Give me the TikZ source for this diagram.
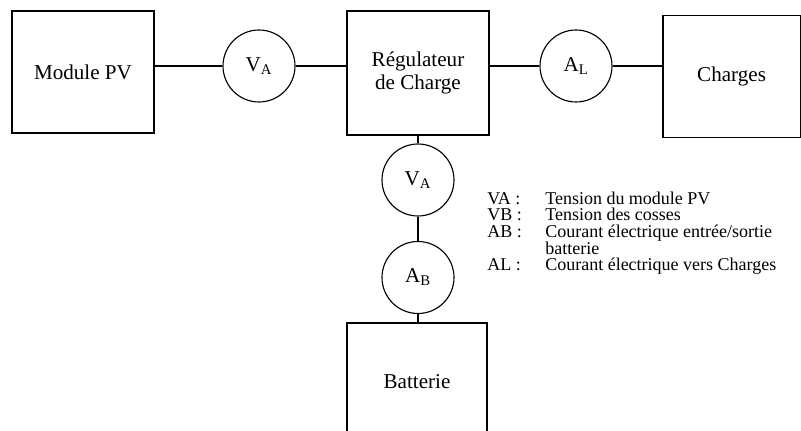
\documentclass[tikz,border=0pt]{standalone}
\usepackage{fontspec}
\setmainfont{Liberation Serif}
\usetikzlibrary{positioning}
\tikzset{
    bloc/.style={
        draw, line width=0.8pt, minimum width=3.55cm, minimum height=3.05cm,
        align=center, font=\fontsize{15}{16.5}\selectfont
    },
    meter/.style={
        circle, draw, line width=0.8pt, minimum size=1.8cm, inner sep=0pt,
        font=\fontsize{15}{16.5}\selectfont
    },
    wire/.style={
        line width=0.8pt
    },
    legende/.style={
        anchor=base west, inner sep=0pt, font=\fontsize{12.8}{12}\selectfont
    }
}

\begin{document}
\begin{tikzpicture}
    \useasboundingbox (0,0) rectangle (20.025,10.775);

    % --- BLOCS ---
    \node[bloc] (pv) at (2.075,8.975) {Module PV};
    \node[bloc, minimum height=3.1cm] (reg) at (10.45,8.95) {Régulateur\\de Charge};
    \node[bloc, minimum width=3.43cm, minimum height=3.03cm] (charges) at (18.29,8.8625) {Charges};
    \node[bloc, minimum width=3.5cm, minimum height=2.925cm] (batt) at (10.425,1.2375) {Batterie};

    % --- APPAREILS DE MESURE ---
    \node[meter] (va1) at (6.475,9.125) {V\textsubscript{A}};
    \node[meter] (al) at (14.4,9.125) {A\textsubscript{L}};
    \node[meter] (vb) at (10.45,6.275) {V\textsubscript{A}};
    \node[meter] (ab) at (10.45,3.8375) {A\textsubscript{B}};

    % --- LIAISONS ---
    \draw[wire] (pv.east |- va1.west) -- (va1.west);
    \draw[wire] (va1.east) -- (va1.east -| reg.west);
    \draw[wire] (reg.east |- al.west) -- (al.west);
    \draw[wire] (al.east) -- (al.east -| charges.west);
    \draw[wire] (reg.south) -- (vb.north);
    \draw[wire] (vb.south) -- (ab.north);
    \draw[wire] (ab.south) -- (ab.south |- batt.north);

    % --- LEGENDE ---
    \node[legende] (cleVA) at (12.175,5.6625) {VA :};
    \node[legende] (txtVA) at (13.625,5.6625) {Tension du module PV};
    \node[legende] (cleVB) at (12.175,5.25) {VB :};
    \node[legende] (txtVB) at (13.625,5.25) {Tension des cosses};
    \node[legende] (cleAB) at (12.175,4.825) {AB :};
    \node[legende] (txtAB) at (13.625,4.825) {Courant électrique entrée/sortie};
    \node[legende] (txtAB2) at (13.625,4.4125) {batterie};
    \node[legende] (cleAL) at (12.175,4.0) {AL :};
    \node[legende] (txtAL) at (13.625,4.0) {Courant électrique vers Charges};
\end{tikzpicture}
\end{document}
